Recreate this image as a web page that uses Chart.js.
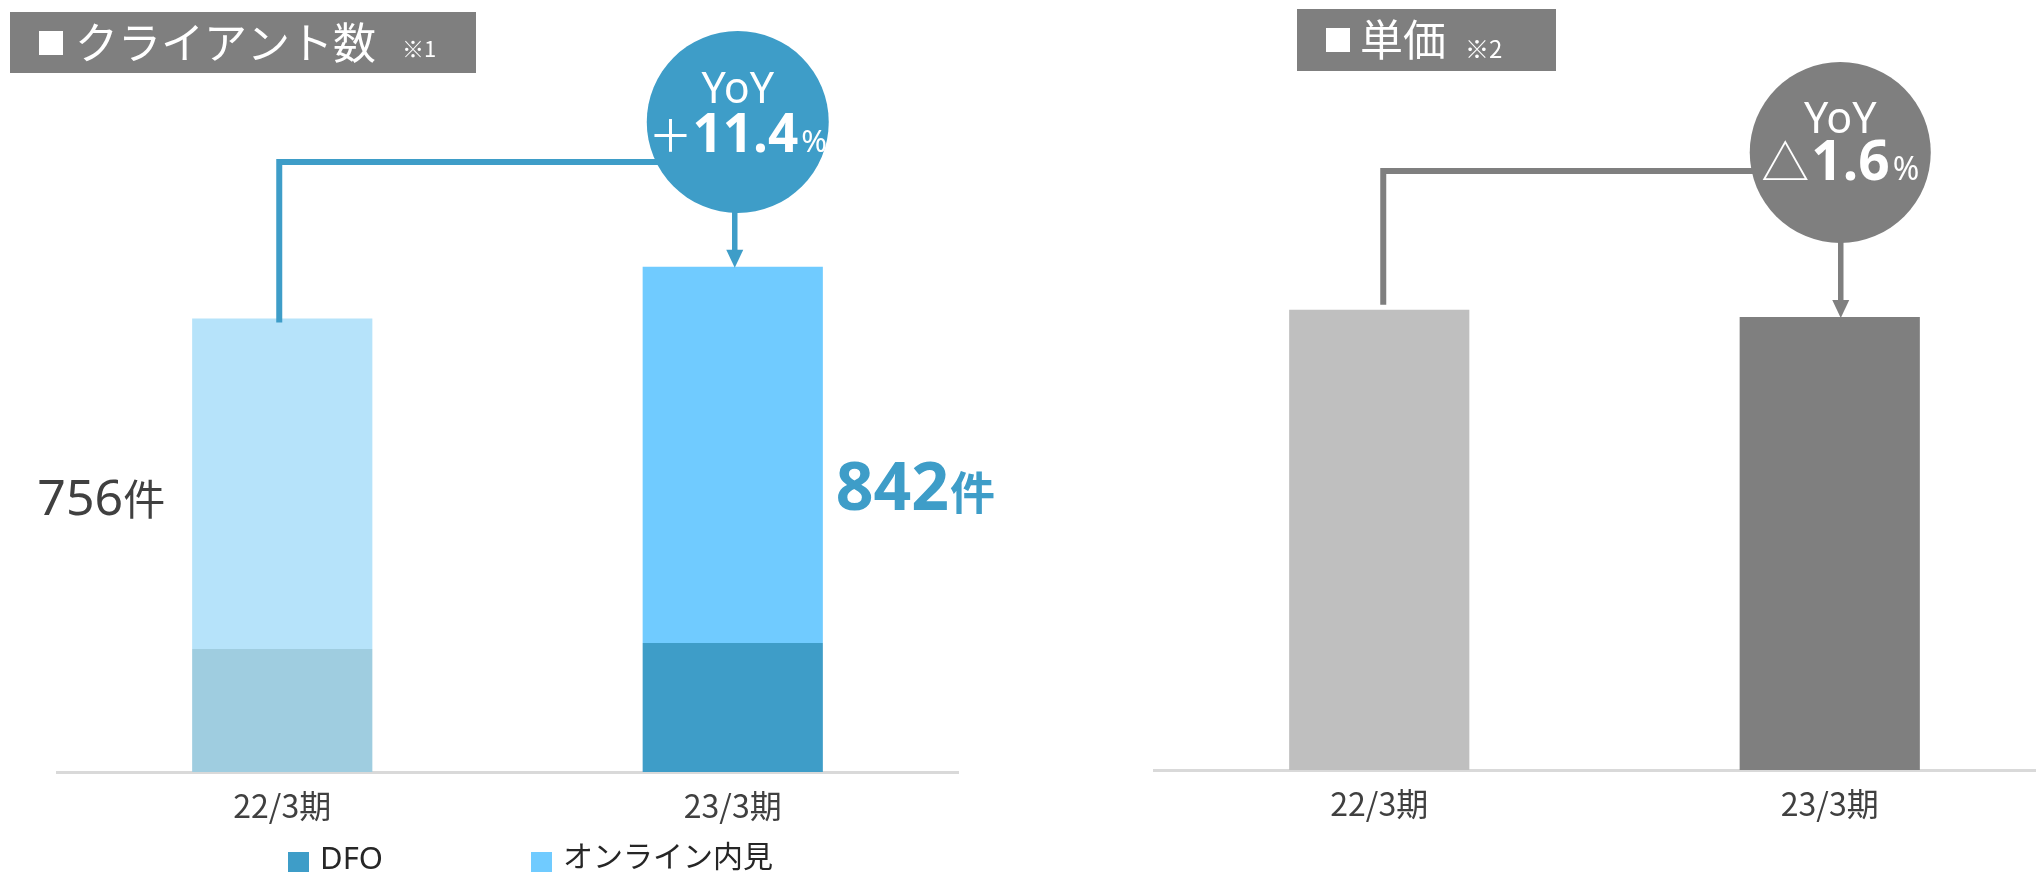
<!DOCTYPE html>
<html><head><meta charset="utf-8">
<script src="https://cdn.jsdelivr.net/npm/chart.js@4.4.1/dist/chart.umd.min.js"></script>
<style>
html,body{margin:0;padding:0;background:#fff;overflow:hidden;width:2036px;height:877px;position:relative;}
#wrapL{position:absolute;left:0;top:0;}
#wrapR{position:absolute;left:1100px;top:0;}
canvas{display:block;}
</style></head><body>
<div id="wrapL"><canvas id="left" width="1072" height="877"></canvas></div>
<div id="wrapR"><canvas id="right" width="1000" height="877"></canvas></div>
<script>
// ---- data ----
const categories = ['22/3期', '23/3期'];
const seriesNames = ['DFO', 'オンライン内見'];
const dfoClients = [205, 215];
const onlineClients = [551, 627];
const priceIndex = [100, 98.4];          // 単価 (22/3期 = 100)
const leftTitle = 'クライアント数';
const leftNote = '※1';
const rightTitle = '単価';
const rightNote = '※2';
const countUnit = '件';

// ---- styles ----
const dfoColors = ['#9FCDE0', '#3E9DC8'];
const onlineColors = ['#B6E3FA', '#70CBFF'];
const priceColors = ['#BFBFBF', '#7F7F7F'];
const BLUE = '#3E9DC8', GREY = '#7F7F7F';
const CJK = '"Noto Sans CJK JP", sans-serif';
const LAT = '"Noto Sans", sans-serif';

const totals = dfoClients.map((v, i) => v + onlineClients[i]);

function yoyParts(a, b) {
  const p = (b / a - 1) * 100;
  return { sign: p >= 0 ? '＋' : '△', num: Math.abs(p).toFixed(1) };
}

function drawRuns(ctx, runs, x, y, align) {
  const widths = runs.map(r => { ctx.font = r.f; return ctx.measureText(r.t).width + (r.gap || 0); });
  const total = widths.reduce((a, b) => a + b, 0);
  let sx = align === 'center' ? x - total / 2 : align === 'right' ? x - total : x;
  ctx.textAlign = 'left';
  runs.forEach((r, i) => {
    ctx.font = r.f; ctx.fillStyle = r.c; ctx.textBaseline = r.b || 'alphabetic';
    ctx.fillText(r.t, sx, y + (r.dy || 0));
    sx += widths[i];
  });
}

function titleBox(ctx, x, y, w, h, sqX, tX, title, noteX, note, noteSize, cy, noteCy) {
  ctx.save();
  ctx.fillStyle = GREY;
  ctx.fillRect(x, y, w, h);
  ctx.fillStyle = '#FFFFFF';
  ctx.textAlign = 'left';
  ctx.textBaseline = 'middle';
  ctx.font = '30px ' + CJK;
  ctx.fillText('■', sqX, cy);
  ctx.font = '43px ' + CJK;
  ctx.fillText(title, tX, cy);
  ctx.font = noteSize + 'px ' + CJK;
  ctx.fillText(note, noteX, noteCy);
  ctx.restore();
}

function arrowDown(ctx, x, y0, y1, color, lw) {
  ctx.save();
  ctx.strokeStyle = color; ctx.fillStyle = color; ctx.lineWidth = lw;
  ctx.beginPath(); ctx.moveTo(x, y0); ctx.lineTo(x, y1 - 15); ctx.stroke();
  ctx.beginPath(); ctx.moveTo(x - 8.5, y1 - 17); ctx.lineTo(x + 8.5, y1 - 17); ctx.lineTo(x, y1 + 1); ctx.closePath(); ctx.fill();
  ctx.restore();
}

const leftAnnot = {
  id: 'leftAnnot',
  afterDraw(chart) {
    const ctx = chart.ctx;
    const meta = chart.getDatasetMeta(1);
    const b1 = meta.data[0], b2 = meta.data[1];
    titleBox(ctx, 10, 12, 466, 61, 36, 75, leftTitle, 402, leftNote, 22, 43, 49);

    const cx = b2.x + 5, cy = 122, r = 91;
    // connector
    ctx.save();
    ctx.strokeStyle = BLUE; ctx.lineWidth = 6; ctx.lineJoin = 'miter';
    ctx.beginPath();
    ctx.moveTo(b1.x - 3, b1.y + 4);
    ctx.lineTo(b1.x - 3, 162);
    ctx.lineTo(cx - 60, 162);
    ctx.stroke();
    ctx.restore();
    // circle
    ctx.save();
    ctx.fillStyle = BLUE;
    ctx.beginPath(); ctx.arc(cx, cy, r, 0, Math.PI * 2); ctx.fill();
    ctx.restore();
    arrowDown(ctx, b2.x + 2, cy + r - 2, b2.y, BLUE, 5.5);
    const yy = yoyParts(totals[0], totals[1]);
    drawRuns(ctx, [{ t: 'YoY', f: '43px ' + LAT, c: '#FFFFFF' }], cx, cy - 19, 'center');
    drawRuns(ctx, [
      { t: yy.sign, f: '44px ' + CJK, c: '#FFFFFF', gap: 0 },
      { t: yy.num, f: 'bold 53px ' + LAT, c: '#FFFFFF', gap: 3 },
      { t: '%', f: '31px ' + LAT, c: '#FFFFFF' }
    ], cx, cy + 30, 'center');

    // value labels
    drawRuns(ctx, [
      { t: String(totals[0]), f: '50px ' + LAT, c: '#404040' },
      { t: countUnit, f: '42px ' + CJK, c: '#404040' }
    ], b1.x - b1.width / 2 - 27, 515, 'right');
    drawRuns(ctx, [
      { t: String(totals[1]), f: 'bold 66px ' + LAT, c: BLUE, gap: 1 },
      { t: countUnit, f: 'bold 45px ' + CJK, c: BLUE }
    ], b2.x + b2.width / 2 + 13, 510, 'left');

    // legend
    ctx.save();
    const legendColors = [dfoColors[1], onlineColors[1]];
    const boxX = [288, 531], textX = [320, 563];
    const fonts = ['31px ' + LAT, '30px ' + CJK];
    seriesNames.forEach((name, i) => {
      ctx.fillStyle = legendColors[i];
      ctx.fillRect(boxX[i], 852, 21, 20);
      ctx.fillStyle = '#262626';
      ctx.font = fonts[i];
      ctx.textAlign = 'left';
      ctx.textBaseline = 'alphabetic';
      ctx.fillText(name, textX[i], i === 0 ? 869 : 867);
    });
    ctx.restore();
  }
};

const rightAnnot = {
  id: 'rightAnnot',
  afterDraw(chart) {
    const ctx = chart.ctx;
    const meta = chart.getDatasetMeta(0);
    const b1 = meta.data[0], b2 = meta.data[1];
    titleBox(ctx, 197, 9, 259, 62, 223, 260, rightTitle, 365, rightNote, 24, 40, 49);

    const cx = b2.x + 10.5, cy = 152.5, r = 90.5;
    ctx.save();
    ctx.strokeStyle = GREY; ctx.lineWidth = 6; ctx.lineJoin = 'miter';
    ctx.beginPath();
    ctx.moveTo(b1.x + 4, b1.y - 5);
    ctx.lineTo(b1.x + 4, 171);
    ctx.lineTo(cx - 60, 171);
    ctx.stroke();
    ctx.fillStyle = GREY;
    ctx.beginPath(); ctx.arc(cx, cy, r, 0, Math.PI * 2); ctx.fill();
    ctx.restore();
    arrowDown(ctx, b2.x + 11, cy + r - 2, b2.y, GREY, 5.5);
    const yy = yoyParts(priceIndex[0], priceIndex[1]);
    drawRuns(ctx, [{ t: 'YoY', f: '43px ' + LAT, c: '#FFFFFF' }], cx, cy - 20, 'center');
    drawRuns(ctx, [
      { t: yy.sign, f: '48px ' + CJK, c: '#FFFFFF', gap: 2 },
      { t: yy.num, f: 'bold 55px ' + LAT, c: '#FFFFFF', gap: 3 },
      { t: '%', f: '32px ' + LAT, c: '#FFFFFF' }
    ], cx, cy + 27, 'center');
  }
};

const xAxisBase = (h) => ({
  stacked: true,
  grid: { display: false, drawTicks: false },
  border: { display: true, color: '#D9D9D9', width: 3 },
  ticks: { font: { size: 32, family: CJK }, color: '#404040', padding: 15 },
  afterFit: (s) => { s.height = h; }
});

new Chart(document.getElementById('left'), {
  type: 'bar',
  data: {
    labels: categories,
    datasets: [
      { label: seriesNames[0], data: dfoClients, backgroundColor: dfoColors, borderWidth: 0 },
      { label: seriesNames[1], data: onlineClients, backgroundColor: onlineColors, borderWidth: 0 }
    ]
  },
  options: {
    responsive: false, animation: false,
    categoryPercentage: 1, barPercentage: 0.4,
    layout: { padding: { left: 57, right: 114, top: 52, bottom: 0 } },
    plugins: { legend: { display: false }, tooltip: { enabled: false } },
    scales: {
      x: xAxisBase(877 - 772),
      y: { stacked: true, display: false, min: 0, max: 1200 }
    }
  },
  plugins: [leftAnnot]
});

new Chart(document.getElementById('right'), {
  type: 'bar',
  data: {
    labels: categories,
    datasets: [
      { label: rightTitle, data: priceIndex, backgroundColor: priceColors, borderWidth: 0 }
    ]
  },
  options: {
    responsive: false, animation: false,
    categoryPercentage: 1, barPercentage: 0.4,
    layout: { padding: { left: 54, right: 45, top: 52, bottom: 0 } },
    plugins: { legend: { display: false }, tooltip: { enabled: false } },
    scales: {
      x: xAxisBase(877 - 770),
      y: { display: false, min: 0, max: 156 }
    }
  },
  plugins: [rightAnnot]
});
</script>
</body></html>
